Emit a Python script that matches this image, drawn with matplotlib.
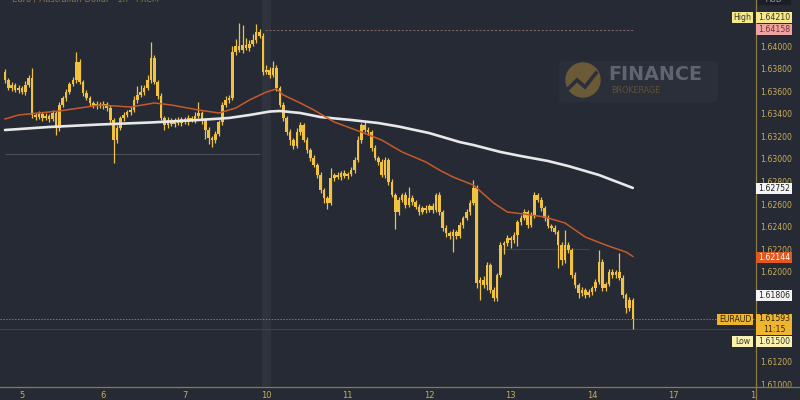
import matplotlib
matplotlib.use('Agg')
import matplotlib.pyplot as plt
from matplotlib.patches import Rectangle, Circle, FancyBboxPatch

# ---------------- data ----------------
first_open = 1.63781
closes = [
    1.63710, 1.63639, 1.63665, 1.63621, 1.63639, 1.63603, 1.63665, 1.63728, 1.63399, 1.63381,
    1.63408, 1.63373, 1.63390, 1.63364, 1.63417, 1.63284, 1.63488, 1.63550, 1.63603, 1.63674,
    1.63710, 1.63870, 1.63692, 1.63594, 1.63550, 1.63506, 1.63479, 1.63497, 1.63479, 1.63497,
    1.63461, 1.63355, 1.63177, 1.63284, 1.63373, 1.63399, 1.63426, 1.63444, 1.63532, 1.63577,
    1.63603, 1.63639, 1.63710, 1.63905, 1.63692, 1.63568, 1.63373, 1.63310, 1.63355, 1.63319,
    1.63355, 1.63328, 1.63364, 1.63337, 1.63373, 1.63355, 1.63390, 1.63417, 1.63355, 1.63266,
    1.63195, 1.63177, 1.63230, 1.63337, 1.63488, 1.63532, 1.63550, 1.63958, 1.64012, 1.63976,
    1.64021, 1.63994, 1.64029, 1.64065, 1.64136, 1.64100, 1.63781, 1.63799, 1.63754, 1.63816,
    1.63639, 1.63488, 1.63373, 1.63248, 1.63177, 1.63124, 1.63248, 1.63310, 1.63177, 1.63088,
    1.63017, 1.62955, 1.62867, 1.62733, 1.62662, 1.62618, 1.62840, 1.62867, 1.62849, 1.62884,
    1.62858, 1.62875, 1.62911, 1.63000, 1.63177, 1.63310, 1.63266, 1.63248, 1.63106, 1.63017,
    1.62982, 1.62867, 1.63000, 1.62804, 1.62689, 1.62538, 1.62645, 1.62689, 1.62600, 1.62662,
    1.62627, 1.62582, 1.62538, 1.62574, 1.62556, 1.62591, 1.62556, 1.62689, 1.62538, 1.62396,
    1.62352, 1.62325, 1.62361, 1.62325, 1.62423, 1.62485, 1.62538, 1.62618, 1.62751, 1.61908,
    1.61934, 1.61890, 1.62068, 1.61846, 1.61775, 1.61979, 1.62245, 1.62263, 1.62307, 1.62290,
    1.62334, 1.62449, 1.62485, 1.62538, 1.62423, 1.62511, 1.62689, 1.62645, 1.62574, 1.62485,
    1.62414, 1.62396, 1.62361, 1.62245, 1.62112, 1.62245, 1.62201, 1.61979, 1.61890, 1.61819,
    1.61846, 1.61801, 1.61828, 1.61863, 1.61917, 1.62094, 1.61863, 1.61899, 1.62005, 1.61979,
    1.62005, 1.61952, 1.61801, 1.61686, 1.61757, 1.61593,
]
upper_wick_pips = [
    3, 2, 3, 2, 3, 2, 4, 3, 9, 2,
    3, 2, 3, 2, 3, 2, 3, 2, 3, 2,
    3, 9, 3, 2, 3, 2, 2, 3, 2, 3,
    2, 3, 2, 3, 2, 3, 2, 3, 4, 8,
    6, 3, 4, 14, 3, 2, 3, 2, 3, 2,
    2, 3, 2, 2, 3, 2, 4, 10, 2, 2,
    3, 2, 3, 2, 3, 4, 3, 5, 6, 20,
    18, 6, 4, 5, 7.4, 3, 3, 4, 3, 6,
    3, 2, 3, 2, 3, 2, 4, 3, 2, 3,
    2, 3, 2, 3, 2, 2, 9, 2, 3, 2,
    3, 2, 3, 3, 4, 2, 3, 3, 2, 3,
    2, 3, 3, 2, 3, 2, 3, 2, 3, 10,
    3, 2, 3, 2, 3, 2, 3, 2, 3, 2,
    3, 2, 3, 2, 3, 2, 3, 3, 7, 3,
    3, 4, 3, 2, 3, 2, 3, 2, 3, 2,
    3, 2, 3, 3, 2, 3, 3, 2, 3, 2,
    3, 2, 3, 2, 3, 13, 3, 2, 3, 2,
    3, 2, 3, 2, 3, 11, 3, 2, 3, 3,
    2, 17, 3, 2, 3, 2,
]
lower_wick_pips = [
    3, 2, 3, 2, 3, 2, 3, 2, 3, 3,
    2, 3, 2, 3, 2, 6, 3, 2, 3, 2,
    2, 3, 2, 3, 2, 3, 2, 3, 2, 3,
    3, 3, 20, 3, 2, 3, 2, 3, 2, 3,
    2, 3, 2, 3, 2, 3, 2, 4, 3, 2,
    3, 2, 3, 2, 3, 2, 3, 2, 4, 8,
    5, 6, 3, 2, 3, 2, 3, 2, 3, 2,
    3, 2, 3, 2, 3, 2, 3, 2, 3, 2,
    3, 2, 3, 3, 4, 3, 2, 3, 2, 3,
    3, 2, 3, 3, 4, 5, 2, 3, 2, 3,
    2, 3, 2, 3, 2, 3, 2, 3, 3, 2,
    3, 2, 3, 3, 2, 15, 3, 2, 3, 2,
    3, 2, 3, 2, 3, 2, 3, 2, 3, 3,
    4, 3, 14, 3, 2, 3, 2, 3, 2, 4,
    15, 3, 4, 3, 3, 3, 2, 8, 3, 7,
    3, 10, 3, 2, 3, 2, 3, 2, 3, 3,
    2, 3, 2, 20, 4, 3, 3, 3, 3, 4,
    3, 3, 2, 3, 3, 2, 3, 3, 2, 3,
    3, 2, 3, 4, 3, 9.3,
]

slow_ma_idx = [0, 13, 28, 43, 57, 66, 72, 78, 81, 87, 93, 102, 110, 116, 125, 134, 138, 146, 152, 160, 166, 175, 185]
slow_ma_val = [1.63266, 1.63293, 1.63315, 1.63333, 1.63355, 1.63373, 1.63399, 1.63430, 1.63435, 1.63417,
               1.63381, 1.63355, 1.63328, 1.63297, 1.63239, 1.63159, 1.63133, 1.63071, 1.63035, 1.62991,
               1.62946, 1.62867, 1.62752]
fast_ma_idx = [0, 4, 16, 28, 37, 44, 49, 57, 63, 68, 72, 77, 80, 82, 87, 91, 97, 105, 111, 117,
               124, 128, 132, 138, 144, 148, 153, 159, 165, 171, 177, 183, 185]
fast_ma_val = [1.63364, 1.63399, 1.63435, 1.63488, 1.63470, 1.63506, 1.63488, 1.63444, 1.63417, 1.63461,
               1.63532, 1.63603, 1.63630, 1.63577, 1.63506, 1.63444, 1.63337, 1.63248, 1.63177, 1.63071,
               1.62982, 1.62911, 1.62849, 1.62778, 1.62618, 1.62538, 1.62520, 1.62494, 1.62441, 1.62316,
               1.62245, 1.62183, 1.62144]

day_tick_idx = [5, 29, 53, 77, 101, 125, 149, 173, 197, 221]
day_tick_labels = ['5', '6', '7', '10', '11', '12', '13', '14', '17', '18']

# visible price-scale ticks (1.618 / 1.616 / 1.614 are hidden behind the price tags)
price_ticks = [1.640, 1.638, 1.636, 1.634, 1.632, 1.630, 1.628, 1.626, 1.624,
               1.622, 1.620, 1.612, 1.610]

session_high = 1.64158
prev_level = 1.63050
last_price = 1.61593
day_low = 1.61500
mid_level = 1.62210

symbol = 'EURAUD'
countdown = '11:15'
title = 'Euro / Australian Dollar · 1h · FXCM'

# ---------------- style ----------------
BG = '#262a34'
GOLD = '#f1c140'
TXT = '#c9ad5a'
W, H = 800, 400

fig = plt.figure(figsize=(8, 4), dpi=100, facecolor=BG)
ax = fig.add_axes([0, 13 / H, 755 / W, 387 / H])
ax.set_facecolor(BG)
ax.set_xlim(-1.47, 220.85)
ax.set_ylim(1.60985, 1.6442)
for s in ax.spines.values():
    s.set_visible(False)
ax.set_yticks([])
ax.set_xticks(day_tick_idx)
ax.set_xticklabels(day_tick_labels, color=TXT, fontsize=6)
ax.tick_params(axis='x', length=0, pad=3)

# session separator band
ax.axvspan(75.7, 78.3, color='#2f333e', zorder=0, lw=0)

# level lines
n = len(closes)
ax.hlines(session_high, 76.5, n - 1, color='#7a6266', lw=0.8, linestyles=(0, (2, 1.5)), zorder=1)
ax.hlines(prev_level, 0, 75, color='#4c505b', lw=0.8, zorder=1)
ax.hlines(mid_level, 145, 172, color='#3f434e', lw=0.8, zorder=1)
ax.axhline(day_low, color='#3d414b', lw=0.8, zorder=1)
ax.axhline(last_price, color='#8f7d48', lw=0.7, linestyle=(0, (1.5, 1.5)), zorder=1)

# candles
opens = [first_open] + closes[:-1]
idx = list(range(n))
highs = [max(o, c) + u * 0.0001 for o, c, u in zip(opens, closes, upper_wick_pips)]
lows = [min(o, c) - l * 0.0001 for o, c, l in zip(opens, closes, lower_wick_pips)]
ax.vlines(idx, lows, highs, color=GOLD, lw=0.9, zorder=3)
bottoms = [min(o, c) for o, c in zip(opens, closes)]
heights = [max(abs(c - o), 0.00004) for o, c in zip(opens, closes)]
ax.bar(idx, heights, bottom=bottoms, width=0.78, color=GOLD, lw=0, zorder=4)

# moving averages
ax.plot(slow_ma_idx, slow_ma_val, color='#e8e8ea', lw=1.9, zorder=5, solid_capstyle='round')
ax.plot(fast_ma_idx, fast_ma_val, color='#c65a2c', lw=1.1, zorder=5)

# ---------------- right price panel ----------------
rp = fig.add_axes([755 / W, 13 / H, 45 / W, 387 / H], zorder=3)
rp.set_facecolor(BG)
rp.set_xlim(0, 45)
rp.set_ylim(1.60985, 1.6442)
rp.axis('off')
rp.add_patch(Rectangle((0, 1.60985), 45, 0.04, color=BG, zorder=0))
for p in price_ticks:
    rp.text(5, p, f'{p:.5f}', color=TXT, fontsize=5.6, va='center', ha='left',
            family='DejaVu Sans', clip_on=True, zorder=1)

# ---------------- overlay (pixel coords) ----------------
ov = fig.add_axes([0, 0, 1, 1], zorder=4)
ov.set_xlim(0, W)
ov.set_ylim(H, 0)
ov.axis('off')
ov.patch.set_alpha(0)

# cover the right part of the date strip
ov.add_patch(Rectangle((756, 387), 44, 13, color=BG, zorder=1))
ov.plot([755.5, 755.5], [0, 400], color='#8c7a45', lw=0.9, zorder=2)
ov.plot([0, 800], [387, 387], color='#8c7a45', lw=0.9, zorder=2)

# top currency box (cut off, as in the source screenshot)
ov.add_patch(Rectangle((758, -6), 32, 10, color='#1b1e25', zorder=2))
ov.text(774, -1, 'AUD', color='#9a9aa0', fontsize=5.6, ha='center', va='center', zorder=3)
ov.text(12, -0.5, title, color='#8a7848', fontsize=6, ha='left', va='center', zorder=3)

# watermark
ov.add_patch(FancyBboxPatch((559, 61), 159, 41, boxstyle='round,pad=0,rounding_size=4',
                            fc='#2b2f3a', ec='none', zorder=1))
ov.add_patch(Circle((583, 80), 17, color='#6b5a38', zorder=2))
ov.plot([569, 577, 585, 596], [88, 80, 87, 73], color='#2b2f3a', lw=2.6, zorder=3,
        solid_joinstyle='miter')
ov.text(608, 74, 'FINANCE', color='#5f6470', fontsize=13.8, fontweight='bold',
        ha='left', va='center', zorder=3)
ov.text(611, 90.5, 'BROKERAGE', color='#5e5137', fontsize=5.8, ha='left', va='center', zorder=3)

# price boxes
boxes = [
    ('High', 732, 753, 17.5, 11, '#f5e98c', '#3a3a2a'),
    ('1.64210', 756, 792, 17.5, 11, '#f5e98c', '#3a3a2a'),
    ('1.64158', 756, 792, 29.0, 11, '#eea3a3', '#7a2f2f'),
    ('1.62752', 756, 792, 188.5, 11, '#f4f4f4', '#1f1f1f'),
    ('1.62144', 756, 792, 257.5, 11, '#e2581f', '#ffffff'),
    ('1.61806', 756, 792, 295.0, 11, '#f4f4f4', '#1f1f1f'),
    (symbol, 717, 753, 319.5, 11, '#f0b52e', '#2a2412'),
    ('1.61593\n' + countdown, 756, 792, 324.0, 21, '#f0b52e', '#2a2412'),
    ('Low', 732, 753, 341.5, 11, '#faf2b0', '#3a3a2a'),
    ('1.61500', 756, 792, 341.5, 11, '#faf2b0', '#3a3a2a'),
]
for text, x0, x1, yc, h, bg, fg in boxes:
    ov.add_patch(Rectangle((x0, yc - h / 2), x1 - x0, h, color=bg, zorder=4, lw=0))
    ov.text((x0 + x1) / 2, yc, text, color=fg, fontsize=5.6, ha='center', va='center',
            linespacing=1.15, zorder=5)

fig.savefig('out.png', dpi=100, facecolor=BG)
